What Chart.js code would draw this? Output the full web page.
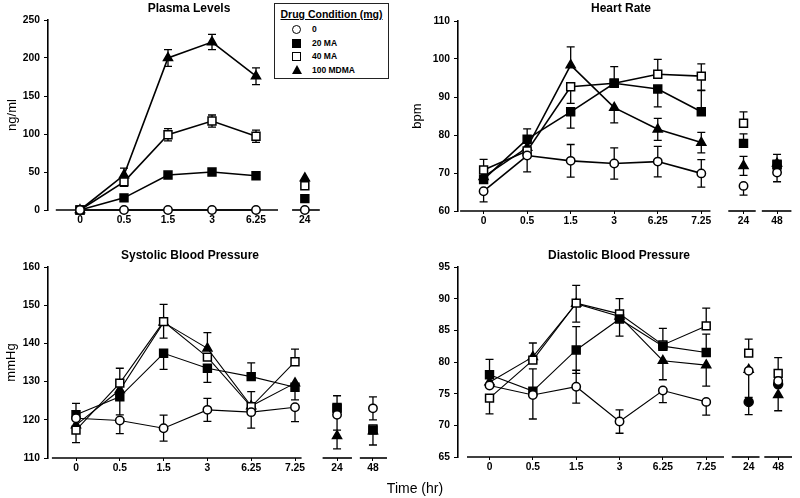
<!DOCTYPE html>
<html>
<head>
<meta charset="utf-8">
<script src="https://cdn.jsdelivr.net/npm/chart.js@4.4.1/dist/chart.umd.min.js"></script>
<style>
  body { margin: 0; background: #fff; width: 800px; height: 498px; overflow: hidden; position: relative;
         font-family: "Liberation Sans", Arial, Helvetica, sans-serif; color: #000; }
  .panel { position: absolute; }
  .ptitle { position: absolute; font-weight: bold; font-size: 12px; white-space: nowrap; transform: translate(-50%, -50%); }
  .xtitle { position: absolute; font-size: 14px; white-space: nowrap; transform: translate(-50%, -50%); }
  #legend { position: absolute; left: 274px; top: 3px; width: 113px; height: 74px; border: 1.5px solid #222; background: #fff; }
  #legend .lt { position: absolute; left: 0; right: 0; top: 4px; text-align: center; font-weight: bold; font-size: 10.5px; text-decoration: underline; }
  #legend .row { position: absolute; left: 0; font-weight: bold; font-size: 8.5px; line-height: 10px; }
  #legend .row span { position: absolute; left: 37px; top: -5px; white-space: nowrap; }
  .sym { position: absolute; box-sizing: border-box; }
</style>
</head>
<body>
<div class="panel" style="left:0;top:0"><canvas id="plasma" width="400" height="240"></canvas></div>
<div class="panel" style="left:400px;top:0"><canvas id="heart" width="400" height="240"></canvas></div>
<div class="panel" style="left:0;top:240px"><canvas id="systolic" width="400" height="258"></canvas></div>
<div class="panel" style="left:400px;top:240px"><canvas id="diastolic" width="400" height="258"></canvas></div>

<div class="ptitle" style="left:189px;top:8px">Plasma Levels</div>
<div class="ptitle" style="left:621px;top:8px">Heart Rate</div>
<div class="ptitle" style="left:190px;top:255px">Systolic Blood Pressure</div>
<div class="ptitle" style="left:619px;top:255px">Diastolic Blood Pressure</div>
<div class="xtitle" style="left:415px;top:488px">Time (hr)</div>

<div id="legend">
  <div class="lt">Drug Condition (mg)</div>
  <div class="row" style="top:25px"><div class="sym" style="left:17px;top:-4px;width:9px;height:9px;border:1.5px solid #000;border-radius:50%;background:#fff"></div><span>0</span></div>
  <div class="row" style="top:39px"><div class="sym" style="left:17px;top:-4px;width:9px;height:9px;background:#000"></div><span>20 MA</span></div>
  <div class="row" style="top:52px"><div class="sym" style="left:17px;top:-4px;width:9px;height:9px;border:1.5px solid #000;background:#fff"></div><span>40 MA</span></div>
  <div class="row" style="top:66px"><div class="sym" style="left:16.5px;top:-5px;width:0;height:0;border-left:5px solid transparent;border-right:5px solid transparent;border-bottom:9px solid #000"></div><span>100 MDMA</span></div>
</div>

<script>
// ---- data ----
const SERIES = ["0", "20 MA", "40 MA", "100 MDMA"];
const TIMES_PLASMA = ["0", "0.5", "1.5", "3", "6.25", "24"];
const TIMES = ["0", "0.5", "1.5", "3", "6.25", "7.25", "24", "48"];

// plasma levels (ng/ml)
const plasma0    = [0, 0, 0, 0, 0, 0];
const plasma20   = [0, 16, 46, 50, 45, 15];
const plasma40   = [0, 37, 99, 117, 97, 32];
const plasma100  = [0, 46, 200, 221, 176, 42];
const plasmaErr0   = [0, 0, 0, 0, 0, 0];
const plasmaErr20  = [0, 2, 3, 3, 3, 0];
const plasmaErr40  = [0, 6, 8, 8, 8, 0];
const plasmaErr100 = [0, 9, 11, 10, 11, 0];

// heart rate (bpm); errors are either symmetric or [down, up]
const heart0   = [65.2, 74.6, 73.2, 72.5, 73.0, 69.9, 66.6, 70.1];
const heart20  = [68.3, 78.9, 86.1, 93.6, 92.1, 86.1, 77.8, 72.3];
const heart40  = [70.8, 75.8, 92.7, 93.6, 96.0, 95.5, 83.1, 72.1];
const heart100 = [69.0, 76.7, 98.4, 87.2, 81.5, 78.0, 71.9, 72.5];
const heartErr0   = [[2.8, 0], [4.3, 0], 4.3, 4.1, 4.0, 3.6, [2.4, 0], [2.4, 0]];
const heartErr20  = [0, [0, 2.7], [4.3, 0], [0, 4.4], [4.7, 0], [0, 5.6], [0, 2.5], [0, 2.6]];
const heartErr40  = [[0, 2.8], 0, [4.4, 0], 0, [0, 3.9], [3.7, 3.2], [0, 3.0], 0];
const heartErr100 = [0, 0, [0, 4.8], [4.0, 0], 2.9, 2.7, 2.5, 0];

// systolic blood pressure (mmHg)
const sys0   = [120.4, 119.8, 117.8, 122.6, 122.0, 123.3, 121.3, 123.0];
const sys20  = [121.3, 126.0, 137.4, 133.5, 131.3, 128.5, 123.0, 117.3];
const sys40  = [117.3, 129.6, 145.7, 136.4, 123.4, 135.2, 123.2, 117.6];
const sys100 = [118.6, 127.8, 145.5, 138.7, 123.6, 129.6, 115.8, 117.0];
const sysErr0   = [0, [3.4, 0], 3.4, 3.0, [4.2, 0], [3.8, 0], [4.0, 0], 3.0];
const sysErr20  = [[0, 3.0], [4.7, 0], [4.2, 0], [3.7, 0], [0, 3.6], [3.3, 0], [0, 3.3], [3.9, 0]];
const sysErr40  = [[3.3, 0], [0, 3.9], [0, 4.5], 0, [0, 4.0], [0, 3.3], 0, 0];
const sysErr100 = [0, 0, [4.1, 0], [0, 4.1], 0, 0, [3.4, 0], 0];

// diastolic blood pressure (mmHg)
const dia0   = [76.3, 74.8, 76.1, 70.6, 75.5, 73.7, 78.6, 77.0];
const dia20  = [78.0, 75.4, 81.9, 86.8, 82.5, 81.5, 73.7, 76.5];
const dia40  = [74.3, 80.3, 89.3, 87.6, 82.7, 85.7, 81.4, 78.2];
const dia100 = [76.8, 80.8, 89.2, 87.2, 80.2, 79.5, 78.8, 74.8];
const diaErr0   = [0, [3.8, 0], 2.6, 1.85, [1.9, 0], [2.1, 0], [4.2, 0], 0];
const diaErr20  = [[0, 2.4], [0, 3.5], 3.7, [2.7, 0], 0, [0, 2.9], [2.0, 0], 0];
const diaErr40  = [[2.5, 0], [0, 2.7], [0, 2.8], [0, 2.4], [0, 2.6], [0, 2.8], [0, 2.2], [0, 2.5]];
const diaErr100 = [0, 0, [2.9, 0], 0, [3.0, 0], [3.3, 0], 0, [2.5, 0]];

// ---- styling ----
const FONT = "'Liberation Sans', Arial, Helvetica, sans-serif";
const MARKERS = [
    { style: "circle", radius: 4.2, fill: "#fff" },
    { style: "rect", radius: 5.6, fill: "#000" },
    { style: "rect", radius: 5.6, fill: "#fff" },
    { style: "triangle", radius: 5.2, fill: "#000" },
];

// error bars drawn under the markers
const errorBars = {
    id: "errorBars",
    beforeDatasetsDraw(chart) {
        const { ctx } = chart;
        const yScale = chart.scales.y;
        ctx.save();
        ctx.strokeStyle = "#000";
        ctx.lineWidth = 1.3;
        chart.data.datasets.forEach((ds, i) => {
            const meta = chart.getDatasetMeta(i);
            ds.errors.forEach((e, j) => {
                const [dn, up] = Array.isArray(e) ? e : [e, e];
                if (!dn && !up) return;
                const x = meta.data[j].x;
                const v = ds.data[j].y;
                const yTop = yScale.getPixelForValue(v + up);
                const yBot = yScale.getPixelForValue(v - dn);
                ctx.beginPath();
                ctx.moveTo(x, yTop);
                ctx.lineTo(x, yBot);
                if (up) { ctx.moveTo(x - 4, yTop); ctx.lineTo(x + 4, yTop); }
                if (dn) { ctx.moveTo(x - 4, yBot); ctx.lineTo(x + 4, yBot); }
                ctx.stroke();
            });
        });
        ctx.restore();
    },
};

// x axis drawn in separate pieces (axis breaks)
const brokenAxis = {
    id: "brokenAxis",
    beforeDatasetsDraw(chart, args, opts) {
        const { ctx, chartArea } = chart;
        const xScale = chart.scales.x;
        ctx.save();
        ctx.strokeStyle = "#000";
        ctx.lineWidth = 1.6;
        (opts.segments || []).forEach(([a, b]) => {
            ctx.beginPath();
            ctx.moveTo(xScale.getPixelForValue(a), chartArea.bottom);
            ctx.lineTo(xScale.getPixelForValue(b), chartArea.bottom);
            ctx.stroke();
        });
        ctx.restore();
    },
};

function makePanel(cfg) {
    const canvas = document.getElementById(cfg.id);
    const W = canvas.width, H = canvas.height;
    const a = cfg.area;
    const xMin = -(cfg.x0 - a.left) / cfg.step;
    const xMax = xMin + (a.right - a.left) / cfg.step;

    const datasets = cfg.values.map((vals, s) => {
        const m = MARKERS[s];
        const styles = vals.map((_, j) => (cfg.circleFrom && cfg.circleFrom[s] !== undefined && j >= cfg.circleFrom[s]) ? "circle" : m.style);
        const radii = styles.map((st) => (st !== m.style ? 4.5 : m.radius));
        return {
            label: SERIES[s],
            data: vals.map((v, j) => ({ x: cfg.slots[j], y: v })),
            errors: cfg.errors[s],
            showLine: true,
            borderColor: "#000",
            borderWidth: cfg.lineWidth,
            pointStyle: styles,
            pointRadius: radii,
            pointBackgroundColor: m.fill,
            pointBorderColor: "#000",
            pointBorderWidth: 1.5,
            clip: false,
            segment: {
                borderColor: (ctx) => (ctx.p1DataIndex >= cfg.mainCount ? "rgba(0,0,0,0)" : "#000"),
            },
        };
    });

    return new Chart(canvas, {
        type: "line",
        data: { datasets },
        plugins: [errorBars, brokenAxis],
        options: {
            responsive: false,
            animation: false,
            events: [],
            layout: { padding: { left: 0, top: a.top, right: W - a.right, bottom: 0 } },
            plugins: {
                legend: { display: false },
                tooltip: { enabled: false },
                brokenAxis: { segments: cfg.segments },
            },
            scales: {
                x: {
                    type: "linear",
                    min: xMin,
                    max: xMax,
                    afterBuildTicks: (scale) => { scale.ticks = cfg.slots.map((v) => ({ value: v })); },
                    afterFit: (scale) => { scale.height = H - a.bottom; },
                    border: { display: false },
                    grid: { drawOnChartArea: false, drawTicks: true, tickLength: 3, color: "#000" },
                    ticks: {
                        autoSkip: false,
                        maxRotation: 0,
                        padding: 1,
                        color: "#000",
                        font: { family: FONT, size: 10.3, weight: "bold" },
                        callback: (v, i) => cfg.labels[i],
                    },
                },
                y: {
                    min: cfg.yMin,
                    max: cfg.yMax,
                    afterFit: (scale) => { scale.width = a.left; },
                    border: { display: true, color: "#000", width: 1.6 },
                    grid: { drawOnChartArea: false, tickLength: 4, color: "#000" },
                    ticks: {
                        stepSize: cfg.yStep,
                        padding: 4,
                        color: "#000",
                        font: { family: FONT, size: 10.3, weight: "bold" },
                    },
                    title: {
                        display: !!cfg.yTitle,
                        text: cfg.yTitle,
                        color: "#000",
                        font: { family: FONT, size: 13 },
                        padding: { top: cfg.yTitlePad, bottom: 0 },
                    },
                },
            },
        },
    });
}

makePanel({
    id: "plasma",
    labels: TIMES_PLASMA,
    values: [plasma0, plasma20, plasma40, plasma100],
    errors: [plasmaErr0, plasmaErr20, plasmaErr40, plasmaErr100],
    slots: [0, 1, 2, 3, 4, 5.11],
    mainCount: 5,
    area: { left: 48, top: 20, bottom: 210, right: 392 },
    x0: 80, step: 44,
    segments: [[-0.55, 4.5], [4.82, 5.45]],
    yMin: 0, yMax: 250, yStep: 50,
    yTitle: "ng/ml", yTitlePad: 4.7,
    lineWidth: 1.6,
});

makePanel({
    id: "heart",
    labels: TIMES,
    values: [heart0, heart20, heart40, heart100],
    errors: [heartErr0, heartErr20, heartErr40, heartErr100],
    slots: [0, 1, 2, 3, 4, 5, 5.97, 6.74],
    mainCount: 6,
    area: { left: 58, top: 21, bottom: 211, right: 398 },
    x0: 84, step: 44.2,
    segments: [[-0.54, 5.21], [5.62, 6.25], [6.39, 7.07]],
    yMin: 60, yMax: 110, yStep: 10,
    yTitle: "bpm", yTitlePad: 10,
    lineWidth: 1.6,
});

makePanel({
    id: "systolic",
    labels: TIMES,
    values: [sys0, sys20, sys40, sys100],
    errors: [sysErr0, sysErr20, sysErr40, sysErr100],
    slots: [0, 1, 2, 3, 4, 5, 5.96, 6.78],
    mainCount: 6,
    area: { left: 48, top: 27, bottom: 218, right: 392 },
    x0: 76, step: 43.8,
    segments: [[-0.55, 5.15], [5.63, 6.3], [6.48, 7.1]],
    yMin: 110, yMax: 160, yStep: 10,
    yTitle: "mmHg", yTitlePad: 3.2,
    lineWidth: 1.1,
});

makePanel({
    id: "diastolic",
    labels: TIMES,
    values: [dia0, dia20, dia40, dia100],
    errors: [diaErr0, diaErr20, diaErr40, diaErr100],
    slots: [0, 1, 2, 3, 4, 5, 5.98, 6.66],
    mainCount: 6,
    circleFrom: { 1: 6 },
    area: { left: 58, top: 27, bottom: 217, right: 398 },
    x0: 90, step: 44,
    segments: [[-0.52, 5.41], [5.59, 6.23], [6.34, 6.98]],
    yMin: 65, yMax: 95, yStep: 5,
    yTitle: "", yTitlePad: 0,
    lineWidth: 1.1,
});
</script>
</body>
</html>
